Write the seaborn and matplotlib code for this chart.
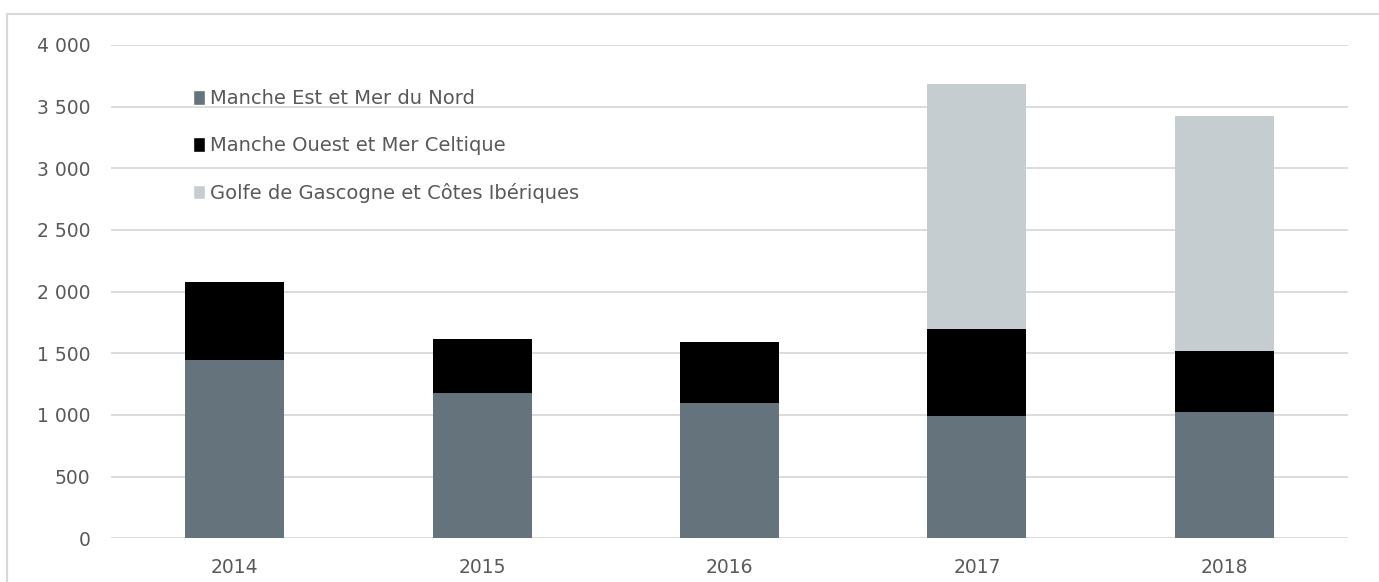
import numpy as np
import pandas as pd
import seaborn as sns
import matplotlib.pyplot as plt
from matplotlib.patches import Patch
from matplotlib.ticker import FuncFormatter

years = ["2014", "2015", "2016", "2017", "2018"]
est_nord = [1445, 1178, 1097, 994, 1025]
ouest_celtique = [633, 436, 493, 703, 497]
gascogne = [0, 0, 0, 1990, 1906]
labels = ["Manche Est et Mer du Nord", "Manche Ouest et Mer Celtique",
          "Golfe de Gascogne et Côtes Ibériques"]
colors = ["#65747c", "#000000", "#c5cdd1"]

df = pd.DataFrame({"year": years, "est": est_nord, "ouest": ouest_celtique, "gasc": gascogne})
df["lvl1"] = df["est"]
df["lvl2"] = df["est"] + df["ouest"]
df["lvl3"] = df["lvl2"] + df["gasc"]

sns.set_theme(style="white")
plt.rcParams['font.family'] = ['DejaVu Sans']
txt = "#595959"

fig = plt.figure(figsize=(13.79, 5.82), dpi=100)
ax = fig.add_axes([111 / 1379, 1 - 538.3 / 582, 1237 / 1379, (538.3 - 45) / 582])

# stacked bars: draw cumulative totals from the top down
for col, c in zip(["lvl3", "lvl2", "lvl1"], colors[::-1]):
    sns.barplot(data=df, x="year", y=col, color=c, width=0.4, saturation=1,
                linewidth=0, ax=ax, zorder=3)

ax.set_xlim(-0.5, 4.5)
ax.set_ylim(0, 4000)
ax.set_yticks(np.arange(0, 4001, 500))
ax.yaxis.set_major_formatter(FuncFormatter(lambda v, p: f"{int(v):,}".replace(",", " ")))
ax.grid(axis="y", color="#d9d9d9", lw=1.3, zorder=0)
ax.set_axisbelow(True)
for s in ax.spines.values():
    s.set_visible(False)
ax.tick_params(axis="both", length=0, labelsize=13.5, colors=txt)
ax.tick_params(axis="y", pad=15)
ax.tick_params(axis="x", pad=14)
ax.set_xlabel("")
ax.set_ylabel("")

handles = [Patch(facecolor=c, label=l) for c, l in zip(colors, labels)]
leg = ax.legend(handles=handles, loc="upper left", bbox_to_anchor=(0.066, 0.910), frameon=False,
                fontsize=14, handlelength=0.62, handleheight=0.75, handletextpad=0.25,
                labelspacing=1.43, borderpad=0, borderaxespad=0, labelcolor=txt)

# outer light border
fig.add_artist(plt.Rectangle((7 / 1379, -0.01), 1.1, 1 - 14 / 582 + 0.01, transform=fig.transFigure,
                             fill=False, edgecolor="#d9d9d9", lw=1.5))

plt.savefig("out.png", dpi=100)
